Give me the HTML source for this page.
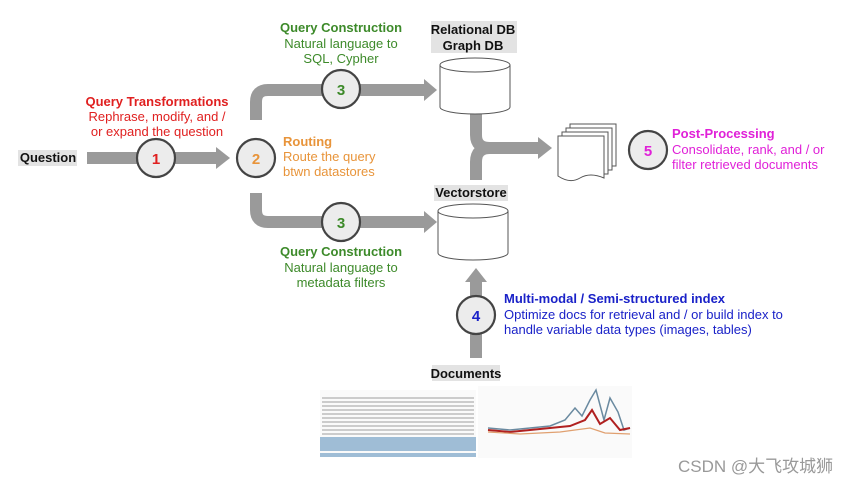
<!DOCTYPE html>
<html><head><meta charset="utf-8"><style>
html,body{margin:0;padding:0;background:#fff;width:864px;height:486px;overflow:hidden}
svg text{font-family:"Liberation Sans",Arial,sans-serif}
</style></head><body>
<svg width="864" height="486" viewBox="0 0 864 486" xmlns="http://www.w3.org/2000/svg">
<defs>
<g id="cyl">
<path d="M0,8 L0,50 A35,7 0 0 0 70,50 L70,8" fill="#fff" stroke="#555" stroke-width="1"/>
<ellipse cx="35" cy="8" rx="35" ry="7" fill="#fff" stroke="#555" stroke-width="1"/>
</g>
</defs>
<g fill="none" stroke="#9a9a9a" stroke-width="12">
<path d="M87,158 H218"/>
<path d="M256,120 V102 Q256,90 268,90 H425"/>
<path d="M256,193 V210 Q256,222 268,222 H425"/>
<path d="M476,112 V135 Q476,148 490,148 H540 M476,180 V162 Q476,148 490,148"/>
<path d="M476,358 V280"/>
</g>
<g fill="#9a9a9a">
<polygon points="216,147 230,158 216,169"/>
<polygon points="424,79 437,90 424,101"/>
<polygon points="424,211 437,222 424,233"/>
<polygon points="538,137 552,148 538,159"/>
<polygon points="465,282 476,268 487,282"/>
</g>
<g fill="#ececec" stroke="#444" stroke-width="2.2">
<circle cx="156" cy="158" r="19"/><circle cx="256" cy="158" r="19"/>
<circle cx="341" cy="89" r="19"/><circle cx="341" cy="222" r="19"/>
<circle cx="648" cy="150" r="19"/><circle cx="476" cy="315" r="19"/>
</g>
<g font-size="15" font-weight="bold" text-anchor="middle">
<text x="156" y="164" fill="#e02020">1</text>
<text x="256" y="164" fill="#e8943a">2</text>
<text x="341" y="95" fill="#3d8a2a">3</text>
<text x="341" y="228" fill="#3d8a2a">3</text>
<text x="648" y="156" fill="#e020d8">5</text>
<text x="476" y="321" fill="#1a22c8">4</text>
</g>
<use href="#cyl" x="440" y="57"/>
<use href="#cyl" x="438" y="203"/>
<g fill="#fff" stroke="#555" stroke-width="1">
<rect x="570" y="124" width="46" height="42"/>
<rect x="566" y="128" width="46" height="42"/>
<rect x="562" y="132" width="46" height="42"/>
<path d="M558,136 H604 V178 Q590,172 580,178 Q570,184 558,176 Z"/>
</g>
<g font-size="13" font-weight="bold" fill="#111" text-anchor="middle">
<rect x="18" y="150" width="59" height="16" fill="#e3e3e3"/>
<text x="48" y="162">Question</text>
<rect x="431" y="21" width="86" height="32" fill="#e3e3e3"/>
<text x="473" y="34">Relational DB</text>
<text x="473" y="50">Graph DB</text>
<rect x="434" y="185" width="74" height="16" fill="#e3e3e3"/>
<text x="471" y="197">Vectorstore</text>
<rect x="432" y="365" width="68" height="16" fill="#e3e3e3"/>
<text x="466" y="378">Documents</text>
</g>
<g font-size="13" text-anchor="middle">
<text x="157" y="106" fill="#e02020" font-weight="bold">Query Transformations</text>
<text x="157" y="121" fill="#e02020">Rephrase, modify, and /</text>
<text x="157" y="136" fill="#e02020">or expand the question</text>
<text x="341" y="32" fill="#3d8a2a" font-weight="bold">Query Construction</text>
<text x="341" y="48" fill="#3d8a2a">Natural language to</text>
<text x="341" y="63" fill="#3d8a2a">SQL, Cypher</text>
<text x="341" y="256" fill="#3d8a2a" font-weight="bold">Query Construction</text>
<text x="341" y="272" fill="#3d8a2a">Natural language to</text>
<text x="341" y="287" fill="#3d8a2a">metadata filters</text>
</g>
<g font-size="13">
<text x="283" y="146" fill="#e8943a" font-weight="bold">Routing</text>
<text x="283" y="161" fill="#e8943a">Route the query</text>
<text x="283" y="176" fill="#e8943a">btwn datastores</text>
<text x="672" y="138" fill="#e020d8" font-weight="bold">Post-Processing</text>
<text x="672" y="154" fill="#e020d8">Consolidate, rank, and / or</text>
<text x="672" y="169" fill="#e020d8">filter retrieved documents</text>
<text x="504" y="303" fill="#1a22c8" font-weight="bold">Multi-modal / Semi-structured index</text>
<text x="504" y="319" fill="#1a22c8">Optimize docs for retrieval and / or build index to</text>
<text x="504" y="334" fill="#1a22c8">handle variable data types (images, tables)</text>
</g>
<g>
<rect x="320" y="390" width="156" height="66" fill="#fafafa"/>
<g stroke="#ccc" stroke-width="2">
<path d="M322,398 H474 M322,402 H474 M322,406 H474 M322,410 H474 M322,414 H474 M322,418 H474 M322,422 H474 M322,426 H474 M322,430 H474 M322,434 H474"/>
</g>
<rect x="320" y="437" width="156" height="14" fill="#9fbdd6"/>
<rect x="320" y="453" width="156" height="4" fill="#9fbdd6"/>
<rect x="478" y="386" width="154" height="72" fill="#fafafa"/>
<polyline fill="none" stroke="#6a8aa0" stroke-width="1.5" points="488,428 510,430 530,428 550,426 565,420 575,408 582,416 590,400 596,390 600,405 604,420 610,398 618,412 624,430 630,428"/>
<polyline fill="none" stroke="#b02020" stroke-width="2" points="488,430 510,432 530,430 550,428 570,426 585,420 592,410 600,424 610,418 620,430 630,428"/>
<polyline fill="none" stroke="#e0a070" stroke-width="1.2" points="488,432 520,434 560,432 590,428 605,433 630,434"/>
</g>
<text x="678" y="472" font-size="17" fill="#999" font-family="'Liberation Sans','Noto Sans CJK SC',sans-serif">CSDN @大飞攻城狮</text>
</svg>
</body></html>
